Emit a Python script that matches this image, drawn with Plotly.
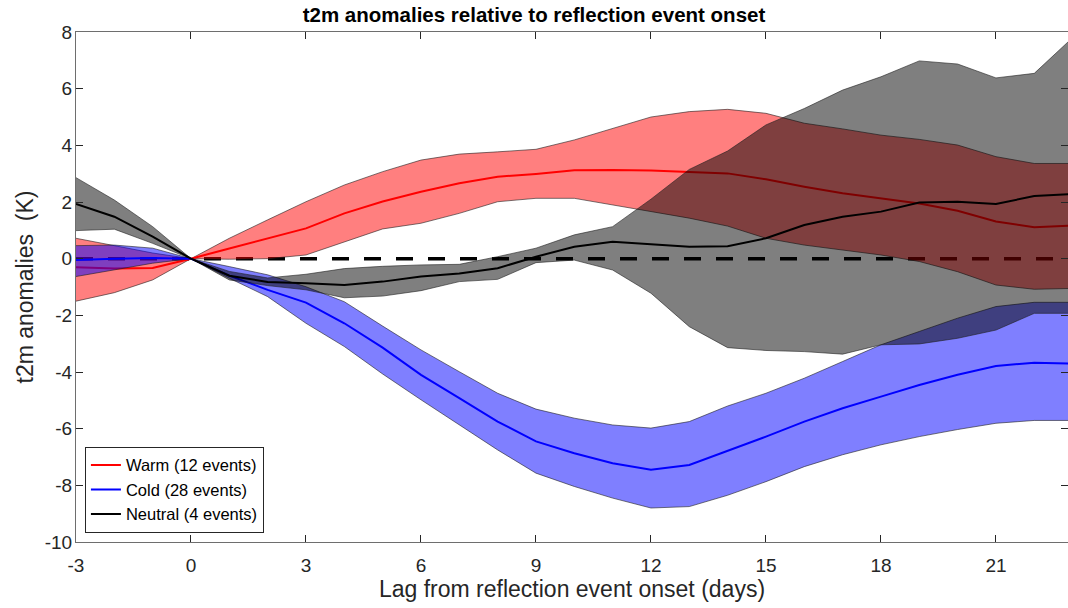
import plotly.graph_objects as go

days = list(range(-3, 24))

warm_mean = [-0.30, -0.35, -0.33, 0.0, 0.36, 0.72, 1.07, 1.60, 2.02, 2.36, 2.66, 2.89, 2.99, 3.12,
             3.13, 3.11, 3.07, 3.01, 2.80, 2.54, 2.31, 2.13, 1.95, 1.69, 1.31, 1.11, 1.17]
warm_upper = [0.72, 0.45, 0.20, 0.0, 0.72, 1.37, 2.01, 2.60, 3.07, 3.48, 3.69, 3.77, 3.86, 4.19,
              4.60, 5.00, 5.19, 5.27, 5.13, 4.78, 4.58, 4.36, 4.21, 4.01, 3.60, 3.36, 3.36]
warm_lower = [-1.50, -1.20, -0.75, 0.0, -0.02, 0.00, 0.13, 0.60, 1.05, 1.25, 1.60, 2.01, 2.13, 2.13,
              1.90, 1.66, 1.43, 1.15, 0.72, 0.48, 0.31, 0.13, -0.10, -0.46, -0.93, -1.08, -1.05]

cold_mean = [-0.05, 0.00, 0.02, 0.0, -0.60, -1.10, -1.55, -2.28, -3.14, -4.10, -4.92, -5.75, -6.45, -6.87,
             -7.22, -7.45, -7.28, -6.78, -6.28, -5.75, -5.28, -4.87, -4.46, -4.10, -3.79, -3.67, -3.70]
cold_upper = [0.46, 0.48, 0.37, 0.0, -0.28, -0.57, -0.99, -1.52, -2.38, -3.22, -3.99, -4.75, -5.31, -5.63,
              -5.87, -5.98, -5.75, -5.20, -4.75, -4.22, -3.63, -3.04, -2.57, -2.10, -1.69, -1.54, -1.54]
cold_lower = [-0.63, -0.40, -0.16, 0.0, -0.69, -1.34, -2.28, -3.10, -4.07, -4.98, -5.87, -6.75, -7.57, -8.04,
              -8.45, -8.80, -8.75, -8.35, -7.87, -7.34, -6.92, -6.57, -6.28, -6.03, -5.81, -5.71, -5.71]

neutral_mean = [1.93, 1.48, 0.78, 0.0, -0.60, -0.82, -0.87, -0.93, -0.81, -0.63, -0.52, -0.34, 0.07, 0.42,
                0.60, 0.51, 0.42, 0.44, 0.72, 1.19, 1.48, 1.66, 1.98, 2.01, 1.93, 2.21, 2.28]
neutral_upper = [2.86, 2.07, 1.13, 0.0, -0.45, -0.68, -0.55, -0.35, -0.27, -0.22, -0.20, 0.07, 0.37, 0.84,
                 1.13, 2.10, 3.15, 3.80, 4.72, 5.30, 5.95, 6.42, 6.98, 6.87, 6.38, 6.54, 7.80]
neutral_lower = [0.99, 1.04, 0.54, 0.0, -0.75, -0.95, -1.10, -1.38, -1.32, -1.13, -0.81, -0.73, -0.14, -0.05,
                 -0.40, -1.22, -2.40, -3.14, -3.24, -3.28, -3.37, -3.04, -3.01, -2.81, -2.52, -1.93, -1.93]

x_ticks = [-3, 0, 3, 6, 9, 12, 15, 18, 21]
y_ticks = [-10, -8, -6, -4, -2, 0, 2, 4, 6, 8]

FONT = "Liberation Sans, Arial, Helvetica, sans-serif"
AX = "#262626"

fig = go.Figure()

# zero reference line (drawn first so shaded bands sit on top of it)
fig.add_trace(go.Scatter(x=[days[0], days[-1]], y=[0, 0], mode="lines",
                         line=dict(color="black", width=3.5, dash="17px,15px"),
                         showlegend=False, hoverinfo="skip"))

series = [
    ("Warm (12 events)", warm_mean, warm_upper, warm_lower, "rgb(255,0,0)", "rgba(255,0,0,0.5)"),
    ("Cold (28 events)", cold_mean, cold_upper, cold_lower, "rgb(0,0,255)", "rgba(0,0,255,0.5)"),
    ("Neutral (4 events)", neutral_mean, neutral_upper, neutral_lower, "rgb(0,0,0)", "rgba(0,0,0,0.5)"),
]

for name, mean, up, lo, col, fcol in series:
    fig.add_trace(go.Scatter(x=days + days[::-1], y=up + lo[::-1], mode="lines",
                             fill="toself", fillcolor=fcol,
                             line=dict(color="rgba(30,30,30,0.85)", width=0.7),
                             showlegend=False, hoverinfo="skip"))
    fig.add_trace(go.Scatter(x=days, y=mean, mode="lines", name=name,
                             line=dict(color=col, width=2)))

fig.update_layout(
    width=1068, height=608,
    margin=dict(l=76, r=0, t=32, b=66, autoexpand=False),
    paper_bgcolor="white", plot_bgcolor="white",
    font=dict(family=FONT, color=AX, size=19),
    title=dict(text="<b>t2m anomalies relative to reflection event onset</b>",
               x=0.4617, xref="paper", xanchor="center",
               y=1 - 15 / 608, yref="container", yanchor="middle",
               font=dict(family=FONT, size=20.5, color="black")),
    legend=dict(x=0.009, y=0.018, xanchor="left", yanchor="bottom",
                bgcolor="white", bordercolor=AX, borderwidth=1,
                font=dict(family=FONT, size=16.5, color="black"),
                tracegroupgap=0),
)

fig.update_xaxes(range=[-3, 22.88], tickvals=x_ticks, ticktext=[str(t) for t in x_ticks],
                 ticks="inside", ticklen=7, tickwidth=1, tickcolor=AX,
                 showline=True, linecolor="#6e6e6e", linewidth=1, mirror="ticks",
                 showgrid=False, zeroline=False, ticklabelstandoff=6, automargin=False,
                 tickfont=dict(family=FONT, size=19, color=AX),
                 title=dict(text="Lag from reflection event onset (days)",
                            font=dict(family=FONT, size=23, color=AX), standoff=5))
fig.update_yaxes(range=[-10, 8], tickvals=y_ticks, ticktext=[str(t) for t in y_ticks],
                 ticks="inside", ticklen=7, tickwidth=1, tickcolor=AX,
                 showline=True, linecolor="#6e6e6e", linewidth=1, mirror="ticks",
                 showgrid=False, zeroline=False, ticklabelstandoff=-1, automargin=False,
                 tickfont=dict(family=FONT, size=19, color=AX),
                 title=dict(text="t2m anomalies  (K)",
                            font=dict(family=FONT, size=23, color=AX), standoff=4))

fig.write_html("out.html", config={"displayModeBar": False},
               post_script="document.body.style.margin='0';document.body.style.overflow='hidden';")
